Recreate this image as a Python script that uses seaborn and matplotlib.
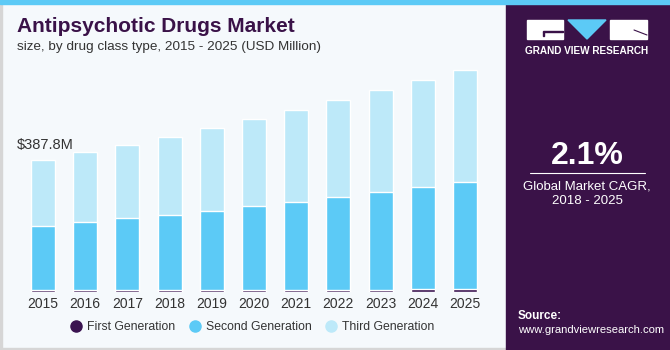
import numpy as np
import pandas as pd
import matplotlib
matplotlib.use("Agg")
import matplotlib.pyplot as plt
import seaborn as sns
from matplotlib.lines import Line2D
from matplotlib.patches import Rectangle, Polygon

# Values (USD Million)
years = ["2015", "2016", "2017", "2018", "2019", "2020", "2021", "2022", "2023", "2024", "2025"]
first_gen = [4.5, 4.4, 4.3, 4.4, 4.6, 4.8, 5.3, 5.8, 6.3, 6.9, 7.4]
second_gen = [189.0, 200.6, 212.7, 221.6, 233.9, 247.2, 258.7, 274.2, 287.2, 301.1, 315.6]
third_gen = [194.3, 205.5, 214.0, 228.7, 243.0, 255.7, 270.0, 284.5, 300.5, 315.5, 330.7]
series_names = ["First Generation", "Second Generation", "Third Generation"]
colors = ["#3a1350", "#5ccaf6", "#bde9f9"]

df = pd.DataFrame({"year": years, "first": first_gen, "second": second_gen, "third": third_gen})
df["lvl1"] = df["first"]
df["lvl2"] = df["first"] + df["second"]
df["lvl3"] = df["lvl2"] + df["third"]

sns.set_style("white")
plt.rcParams["font.family"] = ["Liberation Sans", "DejaVu Sans"]

W, H = 670, 350
fig = plt.figure(figsize=(W / 100, H / 100), dpi=100)
fig.patch.set_facecolor("#f5f9fc")

# frame pieces
fig.patches.append(Rectangle((0, 0), 2 / W, 1, transform=fig.transFigure, color="#d6d6d6", zorder=0))
fig.patches.append(Rectangle((0, 0), 1, 2 / H, transform=fig.transFigure, color="#d6d6d6", zorder=0))
fig.patches.append(Rectangle((506 / W, 0), (W - 506) / W, 1, transform=fig.transFigure,
                             color="#3a1248", zorder=1))
fig.patches.append(Rectangle((0, 1 - 4 / H), 1, 4 / H, transform=fig.transFigure,
                             color="#5ccaf6", zorder=3))

# bottom gradient of the side panel
gax = fig.add_axes([506 / W, 2 / H, (W - 508) / W, 75 / H])
grad = np.linspace(0, 1, 100)[:, None] * np.ones((1, 10))
gcmap = matplotlib.colors.LinearSegmentedColormap.from_list("g", ["#4d6aa6", "#3a1248"])
gax.imshow(grad, aspect="auto", cmap=gcmap, origin="upper", extent=(0, 1, 0, 1), alpha=0.9)
for k in np.linspace(-1, 2, 22):
    gax.plot([0.5, k], [1.0, 0], color="#8fa8d8", lw=0.5, alpha=0.35)
for k in np.linspace(0, 0.9, 8):
    gax.axhline(k ** 1.6, color="#8fa8d8", lw=0.5, alpha=0.35)
gax.set_xlim(0, 1)
gax.set_ylim(0, 1)
gax.axis("off")

# main bar axes
ax = fig.add_axes([13.5 / W, 58.3 / H, 481 / W, 231.7 / H])
ax.set_facecolor("none")
for col, c in zip(["lvl3", "lvl2", "lvl1"], colors[::-1]):
    sns.barplot(data=df, x="year", y=col, color=c, width=0.57, saturation=1, ax=ax, order=years)
ax.set_xlim(-0.7, 10.7)
ax.set_ylim(0, 682.4)
sns.despine(ax=ax, left=True, bottom=True)
ax.set_yticks([])
ax.set_xlabel("")
ax.set_ylabel("")
ax.tick_params(axis="x", length=0, pad=4, labelsize=10, labelcolor="#333333")

ax.text((17 - 13.5) / 481, 387.8 + 23, "$387.8M", transform=ax.get_yaxis_transform(),
        fontsize=10.5, color="#333333", va="bottom", ha="left")

handles = [Line2D([], [], marker="o", ls="", markersize=8, color=c) for c in colors]
fig.legend(handles, series_names, loc="center", bbox_to_anchor=(253 / W, 1 - 327 / H), ncol=3,
           frameon=False, fontsize=8.8, handlelength=0.8, handletextpad=0.5, columnspacing=1.2,
           labelcolor="#333333")

# titles
fig.text(17 / W, 1 - 26 / H, "Antipsychotic Drugs Market", fontsize=15, fontweight="bold",
         color="#3a1248", va="center", ha="left")
fig.text(17 / W, 1 - 47 / H, "size, by drug class type, 2015 - 2025 (USD Million)", fontsize=9.7,
         color="#333333", va="center", ha="left")

# logo
fig.patches.append(Rectangle((527 / W, 1 - 39 / H), 36 / W, 19 / H, transform=fig.transFigure,
                             color="white", zorder=4))
fig.patches.append(Rectangle((543 / W, 1 - 32 / H), 20 / W, 1.2 / H, transform=fig.transFigure,
                             color="#3a1248", zorder=5))
fig.patches.append(Rectangle((543 / W, 1 - 36 / H), 1.2 / W, 4 / H, transform=fig.transFigure,
                             color="#3a1248", zorder=5))
fig.patches.append(Polygon([(568 / W, 1 - 20 / H), (606 / W, 1 - 20 / H), (587 / W, 1 - 39 / H)],
                           closed=True, transform=fig.transFigure, color="#5ccaf6", zorder=4))
fig.patches.append(Rectangle((610 / W, 1 - 39 / H), 37 / W, 19 / H, transform=fig.transFigure,
                             color="white", zorder=4))
fig.lines.append(Line2D([634 / W, 647 / W], [1 - 30 / H, 1 - 35 / H], transform=fig.transFigure,
                        color="#3a1248", lw=0.8, zorder=5))
fig.text(587 / W, 1 - 51 / H, "GRAND VIEW RESEARCH", fontsize=7.2, fontweight="bold",
         color="white", ha="center", va="center", zorder=6)

# CAGR block
fig.text(587 / W, 1 - 156 / H, "2.1%", fontsize=23, fontweight="bold", color="white",
         ha="center", va="center")
fig.lines.append(Line2D([530 / W, 645 / W], [1 - 173 / H, 1 - 173 / H], transform=fig.transFigure,
                        color="white", lw=0.8))
fig.text(587 / W, 1 - 186 / H, "Global Market CAGR,", fontsize=9.5, color="white",
         ha="center", va="center")
fig.text(587 / W, 1 - 201 / H, "2018 - 2025", fontsize=9.5, color="white",
         ha="center", va="center")

fig.text(518 / W, 1 - 316 / H, "Source:", fontsize=8.5, fontweight="bold", color="white",
         ha="left", va="center", zorder=6)
fig.text(518 / W, 1 - 330 / H, "www.grandviewresearch.com", fontsize=8.1, color="white",
         ha="left", va="center", zorder=6)

fig.savefig("out.png", dpi=100, facecolor=fig.get_facecolor())
